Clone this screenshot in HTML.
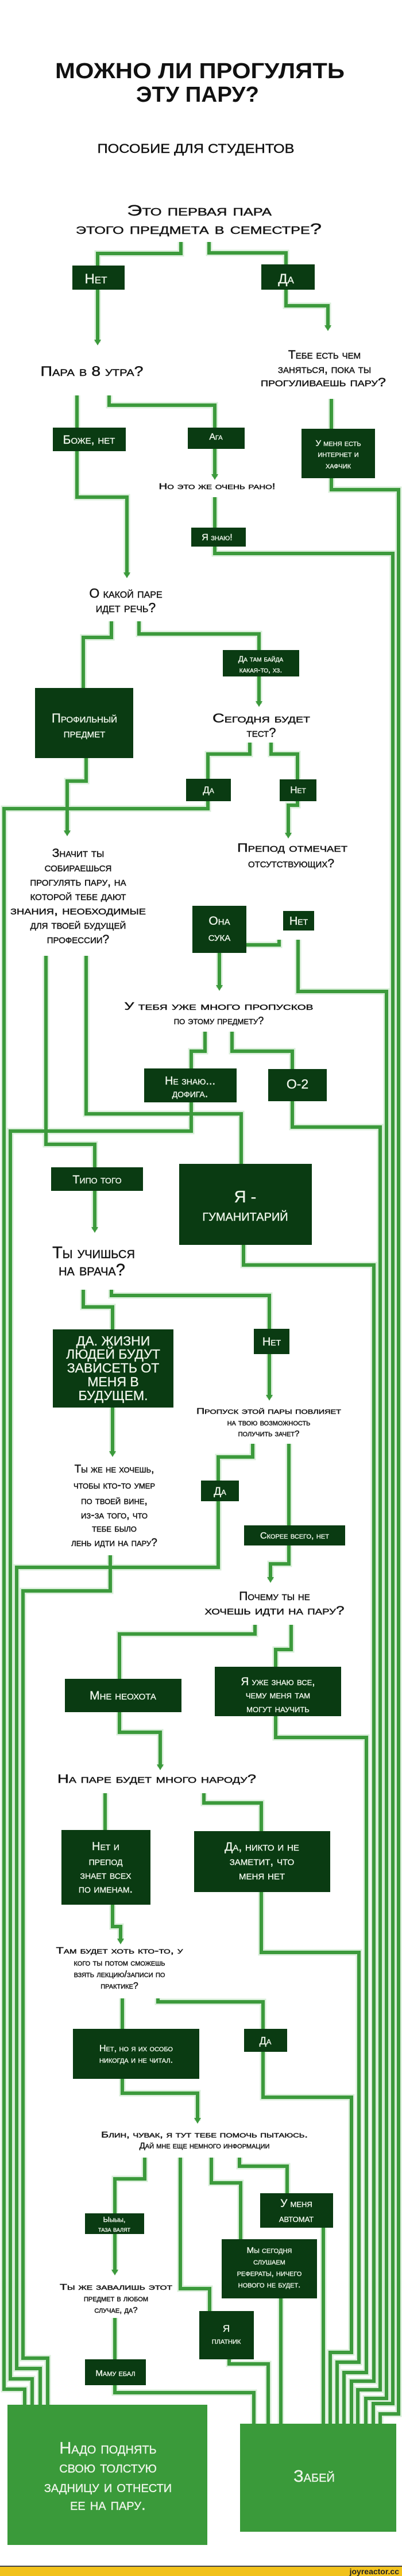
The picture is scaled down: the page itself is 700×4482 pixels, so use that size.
<!DOCTYPE html>
<html><head><meta charset="utf-8"><style>
html,body{margin:0;padding:0;background:#fff;}
svg{display:block;}
text{font-family:"Liberation Sans","DejaVu Sans",sans-serif;}
.q{fill:#151515;stroke:#151515;stroke-width:0.45;font-variant:small-caps;text-anchor:middle;}
.b{fill:#eef5ea;stroke:#eef5ea;stroke-width:0.35;font-variant:small-caps;text-anchor:middle;}
.ln{fill:none;stroke:#3c9a3c;stroke-width:6;stroke-linejoin:miter;}
.gl{fill:none;stroke:#d8eed8;stroke-width:11;}
.bx{fill:#0a3b12;}
.ar{fill:#3c9a3c;}
</style></head><body>
<svg width="700" height="4482" viewBox="0 0 700 4482" xmlns="http://www.w3.org/2000/svg">
<defs>
<g id="P">
<polyline points="315,421 315,441 170,441 170,596"/>
<polyline points="364,421 364,440 498,440 498,532 571,532 571,571"/>
<polyline points="134,688 134,865 221,865 221,1001"/>
<polyline points="190,688 190,705 374,705 374,830"/>
<polyline points="374,865 374,963 684,963 684,4182 650,4182 650,4217"/>
<polyline points="577,694 577,852 694,852 694,4200 662,4200 662,4217"/>
<polyline points="194,1081 194,1109 145,1109 145,1198"/>
<polyline points="242,1081 242,1103 451,1103 451,1225"/>
<polyline points="435,1292 435,1312 362,1312 362,1407 7,1407 7,4157 43,4157 43,4184"/>
<polyline points="150,1319 150,1359 117,1359 117,1450"/>
<polyline points="472,1292 472,1312 518,1312 518,1401 502,1401 502,1454"/>
<polyline points="486,1635 486,1644 382,1644 382,1719"/>
<polyline points="519,1635 519,1725 673,1725 673,4173 637,4173 637,4217"/>
<polyline points="150,1663 150,1938 420,1938 420,2025"/>
<polyline points="80,1663 80,1991 165,1991 165,2140"/>
<polyline points="357,1795 357,1829 333,1829 333,1968 18,1968 18,4139 56,4139 56,4184"/>
<polyline points="404,1795 404,1829 509,1829 509,1961 662,1961 662,4158 623,4158 623,4217"/>
<polyline points="424,2166 424,2201 651,2201 651,4143 612,4143 612,4217"/>
<polyline points="145,2244 145,2274 196,2274 196,2530"/>
<polyline points="194,2244 194,2254 469,2254 469,2432"/>
<polyline points="440,2512 440,2535 380,2535 380,2727 29,2727 29,4121 70,4121 70,4184"/>
<polyline points="503,2512 503,2721 471,2721 471,2749"/>
<polyline points="192,2706 192,2768 40,2768 40,4103 83,4103 83,4184"/>
<polyline points="444,2827 444,2843 208,2843 208,3014 279,3014 279,3075"/>
<polyline points="507,2827 507,2870 480,2870 480,3023 638,3023 638,4128 599,4128 599,4217"/>
<polyline points="183,3120 183,3184"/>
<polyline points="355,3120 355,3137 455,3137 455,3186"/>
<polyline points="196,3314 196,3352 210,3352 210,3378"/>
<polyline points="455,3292 455,3397 625,3397 625,4110 587,4110 587,4217"/>
<polyline points="213,3477 213,3531"/>
<polyline points="275,3477 275,3483 458,3483 458,3649 612,3649 612,4093 575,4093 575,4217"/>
<polyline points="213,3617 213,3642 344,3642 344,3690"/>
<polyline points="252,3754 252,3791 200,3791 200,3954"/>
<polyline points="314,3754 314,3982 365,3982 365,4021"/>
<polyline points="368,3754 368,3798 419,3798 419,3896"/>
<polyline points="417,3754 417,3769 500,3769 500,3816"/>
<polyline points="200,4033 200,4163 442,4163 442,4217"/>
<polyline points="399,4105 399,4113 467,4113 467,4217"/>
<polyline points="489,3999 489,4217"/>
<polyline points="563,3876 563,4217"/>
</g>
</defs>
<use href="#P" class="gl"/>
<use href="#P" class="ln"/>
<g class="ar">
<polygon points="164,591 176,591 170,601"/>
<polygon points="565,566 577,566 571,576"/>
<polygon points="215,996 227,996 221,1006"/>
<polygon points="368,825 380,825 374,835"/>
<polygon points="445,1220 457,1220 451,1230"/>
<polygon points="111,1445 123,1445 117,1455"/>
<polygon points="496,1449 508,1449 502,1459"/>
<polygon points="376,1714 388,1714 382,1724"/>
<polygon points="159,2135 171,2135 165,2145"/>
<polygon points="190,2525 202,2525 196,2535"/>
<polygon points="463,2427 475,2427 469,2437"/>
<polygon points="465,2744 477,2744 471,2754"/>
<polygon points="273,3070 285,3070 279,3080"/>
<polygon points="204,3373 216,3373 210,3383"/>
<polygon points="338,3685 350,3685 344,3695"/>
<polygon points="194,3949 206,3949 200,3959"/>
</g>

<text x="348" y="136" font-size="38" font-weight="bold" text-anchor="middle" fill="#111" textLength="504" lengthAdjust="spacingAndGlyphs">МОЖНО ЛИ ПРОГУЛЯТЬ</text>
<text x="344" y="177" font-size="38" font-weight="bold" text-anchor="middle" fill="#111" textLength="214" lengthAdjust="spacingAndGlyphs">ЭТУ ПАРУ?</text>
<text x="341" y="266" font-size="22" text-anchor="middle" fill="#111" stroke="#111" stroke-width="0.4" textLength="343" lengthAdjust="spacingAndGlyphs">ПОСОБИЕ ДЛЯ СТУДЕНТОВ</text>
<text class="q" x="347" y="375" font-size="26" textLength="252" lengthAdjust="spacingAndGlyphs">Это первая пара</text>
<text class="q" x="346" y="407" font-size="26" textLength="428" lengthAdjust="spacingAndGlyphs">этого предмета в семестре?</text>

<text class="q" x="160" y="654" font-size="24" textLength="179" lengthAdjust="spacingAndGlyphs">Пара в 8 утра?</text>
<text class="q" x="565" y="624" font-size="21">Тебе есть чем</text>
<text class="q" x="565" y="649" font-size="21">заняться, пока ты</text>
<text class="q" x="563" y="672" font-size="21" textLength="218" lengthAdjust="spacingAndGlyphs">прогуливаешь пару?</text>
<text class="q" x="378" y="851" font-size="15" textLength="203" lengthAdjust="spacingAndGlyphs">Но это же очень рано!</text>
<text class="q" x="219" y="1040" font-size="23">О какой паре</text>
<text class="q" x="219" y="1065" font-size="23">идет речь?</text>
<text class="q" x="455" y="1257" font-size="22" textLength="170" lengthAdjust="spacingAndGlyphs">Сегодня будет</text>
<text class="q" x="455" y="1282" font-size="22">тест?</text>
<text class="q" x="136" y="1491" font-size="21">Значит ты</text>
<text class="q" x="136" y="1516" font-size="21">собираешься</text>
<text class="q" x="136" y="1541" font-size="21">прогулять пару, на</text>
<text class="q" x="136" y="1566" font-size="21">которой тебе дают</text>
<text class="q" x="136" y="1591" font-size="21" textLength="236" lengthAdjust="spacingAndGlyphs">знания, необходимые</text>
<text class="q" x="136" y="1616" font-size="21">для твоей будущей</text>
<text class="q" x="136" y="1641" font-size="21">профессии?</text>
<text class="q" x="509" y="1482" font-size="21" textLength="192" lengthAdjust="spacingAndGlyphs">Препод отмечает</text>
<text class="q" x="507" y="1509" font-size="21">отсутствующих?</text>
<text class="q" x="381" y="1757" font-size="18" textLength="329" lengthAdjust="spacingAndGlyphs">У тебя уже много пропусков</text>
<text class="q" x="381" y="1782" font-size="18">по этому предмету?</text>
<text class="q" x="163" y="2189" font-size="29">Ты учишься</text>
<text class="q" x="160" y="2219" font-size="29">на врача?</text>
<text class="q" x="468" y="2460" font-size="15" textLength="252" lengthAdjust="spacingAndGlyphs">Пропуск этой пары повлияет</text>
<text class="q" x="468" y="2480" font-size="15">на твою возможность</text>
<text class="q" x="468" y="2499" font-size="15">получить зачет?</text>
<text class="q" x="199" y="2562" font-size="19">Ты же не хочешь,</text>
<text class="q" x="199" y="2590" font-size="19">чтобы кто-то умер</text>
<text class="q" x="199" y="2617" font-size="19">по твоей вине,</text>
<text class="q" x="199" y="2642" font-size="19">из-за того, что</text>
<text class="q" x="199" y="2665" font-size="19">тебе было</text>
<text class="q" x="199" y="2690" font-size="19">лень идти на пару?</text>
<text class="q" x="478" y="2784" font-size="21">Почему ты не</text>
<text class="q" x="478" y="2809" font-size="21" textLength="243" lengthAdjust="spacingAndGlyphs">хочешь идти на пару?</text>
<text class="q" x="273" y="3102" font-size="21" textLength="346" lengthAdjust="spacingAndGlyphs">На паре будет много народу?</text>
<text class="q" x="208" y="3399" font-size="16" textLength="221" lengthAdjust="spacingAndGlyphs">Там будет хоть кто-то, у</text>
<text class="q" x="208" y="3420" font-size="16">кого ты потом сможешь</text>
<text class="q" x="208" y="3440" font-size="16">взять лекцию/записи по</text>
<text class="q" x="208" y="3460" font-size="16">практике?</text>
<text class="q" x="356" y="3719" font-size="15" textLength="360" lengthAdjust="spacingAndGlyphs">Блин, чувак, я тут тебе помочь пытаюсь.</text>
<text class="q" x="356" y="3738" font-size="15">Дай мне еще немного информации</text>
<text class="q" x="202" y="3984" font-size="15" textLength="196" lengthAdjust="spacingAndGlyphs">Ты же завалишь этот</text>
<text class="q" x="202" y="4004" font-size="15">предмет в любом</text>
<text class="q" x="202" y="4024" font-size="15">случае, да?</text>

<rect class="bx" x="126" y="462" width="91" height="42"/><text class="b" x="167" y="493" font-size="24">Нет</text>
<rect class="bx" x="455" y="460" width="93" height="44"/><text class="b" x="498" y="493" font-size="24">Да</text>
<rect class="bx" x="92" y="744" width="127" height="41"/><text class="b" x="155" y="772" font-size="21">Боже, нет</text>
<rect class="bx" x="327" y="744" width="99" height="37"/><text class="b" x="376" y="765" font-size="16">Ага</text>
<rect class="bx" x="525" y="746" width="128" height="86"/><text class="b" x="589" y="776" font-size="15">У меня есть</text><text class="b" x="589" y="795" font-size="15">интернет и</text><text class="b" x="589" y="815" font-size="15">хафчик</text>
<rect class="bx" x="333" y="918" width="95" height="33"/><text class="b" x="378" y="940" font-size="16">Я знаю!</text>
<rect class="bx" x="388" y="1131" width="133" height="46"/><text class="b" x="454" y="1151" font-size="14">Да там байда</text><text class="b" x="454" y="1170" font-size="14">какая-то, хз.</text>
<rect class="bx" x="61" y="1197" width="171" height="122"/><text class="b" x="147" y="1257" font-size="22">Профильный</text><text class="b" x="147" y="1283" font-size="22">предмет</text>
<rect class="bx" x="324" y="1355" width="78" height="39"/><text class="b" x="363" y="1380" font-size="17">Да</text>
<rect class="bx" x="487" y="1356" width="64" height="38"/><text class="b" x="519" y="1380" font-size="17">Нет</text>
<rect class="bx" x="335" y="1576" width="94" height="82"/><text class="b" x="382" y="1609" font-size="21">Она</text><text class="b" x="382" y="1637" font-size="21">сука</text>
<rect class="bx" x="493" y="1585" width="54" height="34"/><text class="b" x="520" y="1609" font-size="20">Нет</text>
<rect class="bx" x="251" y="1859" width="161" height="59"/><text class="b" x="331" y="1887" font-size="20">Не знаю...</text><text class="b" x="331" y="1909" font-size="20">дофига.</text>
<rect class="bx" x="467" y="1860" width="102" height="56"/><text class="b" x="518" y="1894" font-size="23">О-2</text>
<rect class="bx" x="89" y="2031" width="160" height="41"/><text class="b" x="169" y="2059" font-size="20">Типо того</text>
<rect class="bx" x="312" y="2025" width="231" height="141"/><text class="b" x="427" y="2092" font-size="29">Я -</text><text class="b" x="427" y="2124" font-size="29">гуманитарий</text>
<rect class="bx" x="92" y="2313" width="210" height="136"/>
<text class="b" x="197" y="2341" font-size="23">ДА. ЖИЗНИ</text><text class="b" x="197" y="2364" font-size="23">ЛЮДЕЙ БУДУТ</text><text class="b" x="197" y="2388" font-size="23">ЗАВИСЕТЬ ОТ</text><text class="b" x="197" y="2412" font-size="23">МЕНЯ В</text><text class="b" x="197" y="2436" font-size="23">БУДУЩЕМ.</text>
<rect class="bx" x="442" y="2312" width="62" height="44"/><text class="b" x="473" y="2341" font-size="20">Нет</text>
<rect class="bx" x="350" y="2576" width="66" height="36"/><text class="b" x="383" y="2601" font-size="19">Да</text>
<rect class="bx" x="425" y="2654" width="176" height="35"/><text class="b" x="513" y="2677" font-size="16">Скорее всего, нет</text>
<rect class="bx" x="113" y="2921" width="203" height="58"/><text class="b" x="214" y="2957" font-size="21">Мне неохота</text>
<rect class="bx" x="374" y="2900" width="220" height="86"/><text class="b" x="484" y="2932" font-size="19">Я уже знаю все,</text><text class="b" x="484" y="2955" font-size="19">чему меня там</text><text class="b" x="484" y="2979" font-size="19">могут научить</text>
<rect class="bx" x="107" y="3184" width="155" height="130"/><text class="b" x="184" y="3219" font-size="20">Нет и</text><text class="b" x="184" y="3245" font-size="20">препод</text><text class="b" x="184" y="3269" font-size="20">знает всех</text><text class="b" x="184" y="3293" font-size="20">по именам.</text>
<rect class="bx" x="338" y="3186" width="237" height="106"/><text class="b" x="456" y="3220" font-size="21">Да, никто и не</text><text class="b" x="456" y="3245" font-size="21">заметит, что</text><text class="b" x="456" y="3270" font-size="21">меня нет</text>
<rect class="bx" x="127" y="3530" width="220" height="87"/><text class="b" x="237" y="3569" font-size="16">Нет, но я их особо</text><text class="b" x="237" y="3589" font-size="16">никогда и не читал.</text>
<rect class="bx" x="425" y="3530" width="75" height="40"/><text class="b" x="462" y="3557" font-size="18">Да</text>
<rect class="bx" x="148" y="3851" width="103" height="36"/><text class="b" x="199" y="3866" font-size="13">Ыыыы,</text><text class="b" x="199" y="3883" font-size="13">таза валят</text>
<rect class="bx" x="453" y="3816" width="127" height="60"/><text class="b" x="516" y="3840" font-size="19">У меня</text><text class="b" x="516" y="3866" font-size="19">автомат</text>
<rect class="bx" x="386" y="3896" width="166" height="103"/><text class="b" x="469" y="3920" font-size="15">Мы сегодня</text><text class="b" x="469" y="3940" font-size="15">слушаем</text><text class="b" x="469" y="3960" font-size="15">рефераты, ничего</text><text class="b" x="469" y="3980" font-size="15">нового не будет.</text>
<rect class="bx" x="347" y="4021" width="95" height="84"/><text class="b" x="394" y="4057" font-size="17">Я</text><text class="b" x="394" y="4078" font-size="15">платник</text>
<rect class="bx" x="148" y="4105" width="106" height="45"/><text class="b" x="201" y="4134" font-size="15">Маму ебал</text>

<rect x="13" y="4184" width="348" height="244" fill="#3a9a3a"/>
<text class="b" x="188" y="4269" font-size="29">Надо поднять</text>
<text class="b" x="188" y="4302" font-size="29">свою толстую</text>
<text class="b" x="188" y="4336" font-size="29">задницу и отнести</text>
<text class="b" x="188" y="4367" font-size="29">ее на пару.</text>
<rect x="418" y="4217" width="272" height="188" fill="#3a9a3a"/>
<text class="b" x="547" y="4318" font-size="29">Забей</text>

<rect x="0" y="4464" width="700" height="2" fill="#444"/>
<rect x="0" y="4466" width="700" height="16" fill="#f2c21b"/>
<text x="695" y="4479" font-size="14" font-weight="bold" text-anchor="end" fill="#222">joyreactor.cc</text>
</svg>
</body></html>
